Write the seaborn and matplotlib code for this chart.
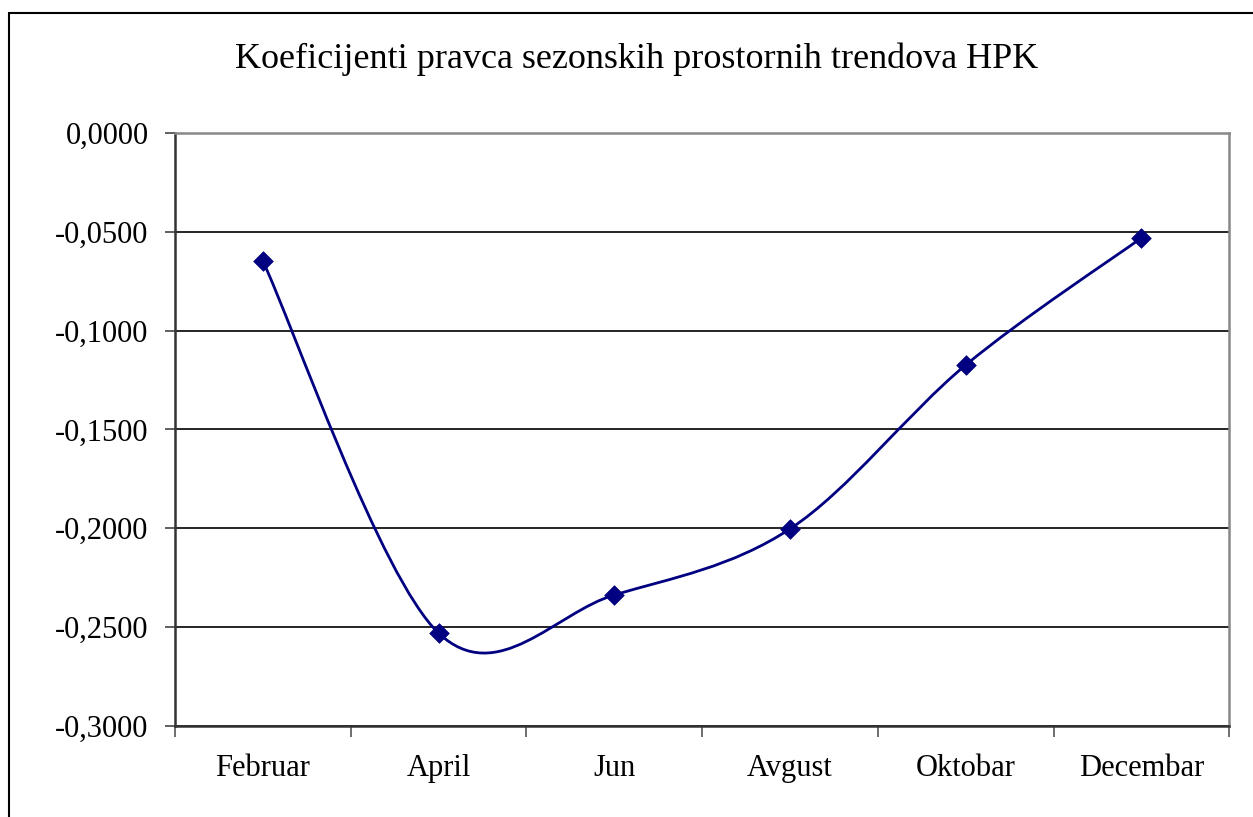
import numpy as np
import pandas as pd
import seaborn as sns
import matplotlib.pyplot as plt
from matplotlib.path import Path
from matplotlib.patches import PathPatch, Rectangle
from matplotlib.ticker import FixedLocator, FuncFormatter

months = ['Februar', 'April', 'Jun', 'Avgust', 'Oktobar', 'Decembar']
koef = [-0.0648, -0.2530, -0.2337, -0.2003, -0.1174, -0.0531]
yticks = [0.0, -0.05, -0.10, -0.15, -0.20, -0.25, -0.30]

navy = '#000080'

sns.set_style('white')
plt.rcParams['font.family'] = ['Liberation Serif', 'DejaVu Serif']
plt.rcParams['text.color'] = 'black'
plt.rcParams['xtick.color'] = 'black'
plt.rcParams['ytick.color'] = 'black'

df = pd.DataFrame({'mjesec': months, 'koef': koef})
df['pos'] = np.arange(len(df))

fig = plt.figure(figsize=(12.53, 8.17), dpi=100)
ax = fig.add_axes([0.1397, 0.1114, 0.8413, 0.7258])

# smoothed line like excel: bezier segments through the points
xs = df['pos'].to_numpy(float)
ys = df['koef'].to_numpy(float)
pts = np.column_stack([xs, ys])
verts = [pts[0]]
codes = [Path.MOVETO]
n = len(pts)
for i in range(n - 1):
    p0 = pts[max(i - 1, 0)]
    p1 = pts[i]
    p2 = pts[i + 1]
    p3 = pts[min(i + 2, n - 1)]
    c1 = p1 + (p2 - p0) / 6.0
    c2 = p2 - (p3 - p1) / 6.0
    verts += [c1, c2, p2]
    codes += [Path.CURVE4] * 3
ax.add_patch(PathPatch(Path(verts, codes), fill=False, edgecolor=navy,
                       lw=2.0, zorder=3))

sns.scatterplot(data=df, x='pos', y='koef', ax=ax, marker='D', s=100,
                color=navy, edgecolor=navy, linewidth=0.5, zorder=4,
                legend=False)

ax.set_xlim(-0.5, len(months) - 0.5)
ax.set_ylim(-0.3, 0.0)
ax.set_xlabel('')
ax.set_ylabel('')

ax.xaxis.set_major_locator(FixedLocator(list(range(len(months)))))
ax.set_xticklabels(months)
ax.xaxis.set_minor_locator(FixedLocator([i - 0.5 for i in range(len(months) + 1)]))
ax.tick_params(axis='x', which='major', bottom=True, length=0, pad=20,
               labelsize=22)
ax.tick_params(axis='x', which='minor', bottom=True, length=8, width=1.2,
               color='#555555', direction='out')

ax.yaxis.set_major_locator(FixedLocator(yticks))
ax.yaxis.set_major_formatter(FuncFormatter(
    lambda v, p: ('%.4f' % (0.0 if abs(v) < 1e-9 else v)).replace('.', ',')))
ax.tick_params(axis='y', which='major', left=True, length=7, width=1.2,
               color='#444444', direction='out', pad=12, labelsize=22)

ax.set_axisbelow(True)
ax.yaxis.grid(True, color='black', lw=1.2)
ax.xaxis.grid(False)

for s in ['top', 'right']:
    ax.spines[s].set_color('#888888')
    ax.spines[s].set_linewidth(1.8)
for s in ['left', 'bottom']:
    ax.spines[s].set_color('#333333')
    ax.spines[s].set_linewidth(1.8)

fig.text(0.508, 0.927, 'Koeficijenti pravca sezonskih prostornih trendova HPK',
         ha='center', va='center', fontsize=26)

# outer chart border
fig.patches.append(Rectangle((8.5 / 1253, -0.1), 1.2, 1.1 - 12.5 / 817,
                             transform=fig.transFigure, fill=False,
                             edgecolor='black', lw=1.5))

fig.savefig('out.png', dpi=100)
